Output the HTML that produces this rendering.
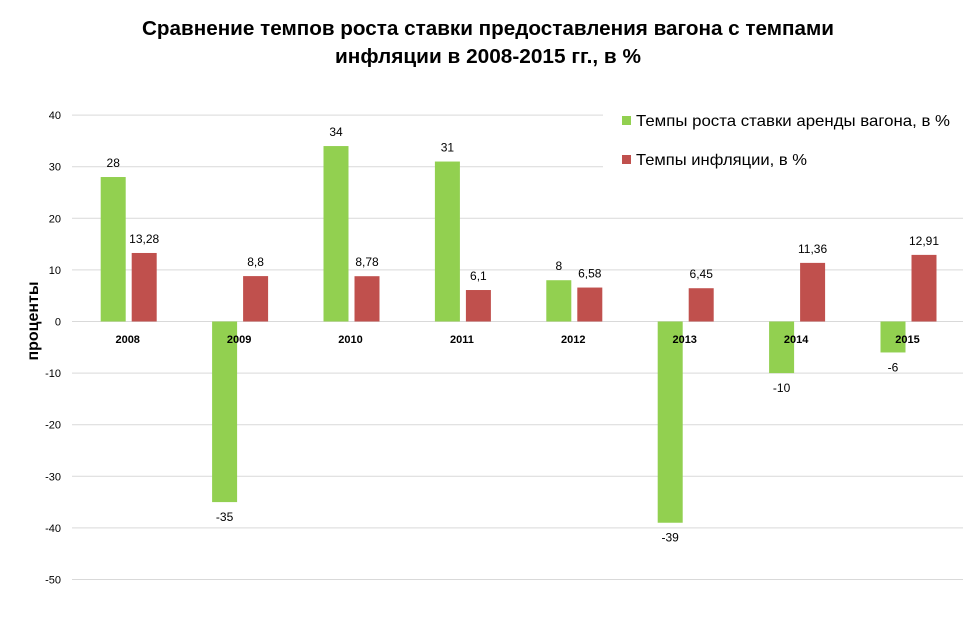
<!DOCTYPE html>
<html><head><meta charset="utf-8"><style>
html,body{margin:0;padding:0;background:#fff;}
svg{display:block;font-family:"Liberation Sans",sans-serif;}
</style></head><body>
<svg id="s" width="977" height="633" xmlns="http://www.w3.org/2000/svg">
<rect width="977" height="633" fill="#fff"/>
<text x="488" y="35" text-anchor="middle" font-size="20" font-weight="bold" textLength="692" lengthAdjust="spacingAndGlyphs">Сравнение темпов роста ставки предоставления вагона с темпами</text>
<text x="488" y="63" text-anchor="middle" font-size="20" font-weight="bold" textLength="306" lengthAdjust="spacingAndGlyphs">инфляции в 2008-2015 гг., в %</text>
<text transform="translate(38,321) rotate(-90)" text-anchor="middle" font-size="16" font-weight="bold">проценты</text>
<g id="g"></g>
</svg>
<script>
var g=document.getElementById('g'),h='';
function y(v){return 321.5-5.16*v;}
for(var v=40;v>=-50;v-=10){var yy=y(v).toFixed(1);
h+='<line x1="72" x2="963" y1="'+yy+'" y2="'+yy+'" stroke="#d9d9d9" stroke-width="1"/>';
h+='<text x="61" y="'+(y(v)+4)+'" text-anchor="end" font-size="11">'+v+'</text>';}
h+='<rect x="603" y="105" width="360" height="70" fill="#fff"/>';
var G=[28,-35,34,31,8,-39,-10,-6],R=['13,28','8,8','8,78','6,1','6,58','6,45','11,36','12,91'];
for(var i=0;i<8;i++){var c=72+111.4*(i+0.5);
var gv=G[i],rv=parseFloat(R[i].replace(',','.'));
var t=Math.min(y(0),y(gv)),hh=Math.abs(y(gv)-y(0));
h+='<rect x="'+(c-27)+'" y="'+t+'" width="25" height="'+hh+'" fill="#92d050"/>';
h+='<rect x="'+(c+4)+'" y="'+y(rv)+'" width="25" height="'+(y(0)-y(rv))+'" fill="#c0504d"/>';
h+='<text x="'+(c-14.5)+'" y="'+(gv>0?y(gv)-10:y(gv)+19)+'" text-anchor="middle" font-size="12">'+gv+'</text>';
h+='<text x="'+(c+16.5)+'" y="'+(y(rv)-10)+'" text-anchor="middle" font-size="12">'+R[i]+'</text>';
h+='<text x="'+c+'" y="343" text-anchor="middle" font-size="11" font-weight="bold">'+(2008+i)+'</text>';}
h+='<rect x="622" y="116" width="9" height="9" fill="#92d050"/>';
h+='<text x="636" y="126" font-size="16" textLength="314" lengthAdjust="spacingAndGlyphs">Темпы роста ставки аренды вагона, в %</text>';
h+='<rect x="622" y="155" width="9" height="9" fill="#c0504d"/>';
h+='<text x="636" y="165" font-size="16" textLength="171" lengthAdjust="spacingAndGlyphs">Темпы инфляции, в %</text>';
g.innerHTML=h;
</script>
</body></html>
